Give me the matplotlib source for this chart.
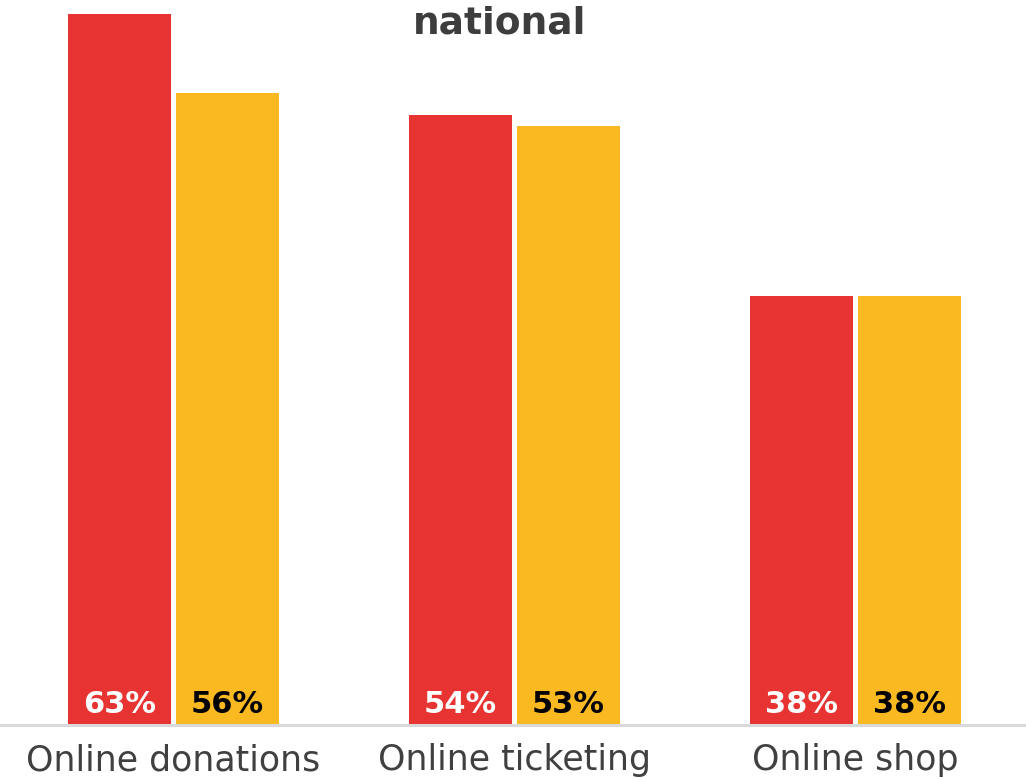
import matplotlib.pyplot as plt
import numpy as np

categories = ['Online donations', 'Online ticketing', 'Online shop']
series_a = [63, 54, 38]
series_b = [56, 53, 38]
title = 'national'

red = '#E73331'
yellow = '#FBB921'

fig = plt.figure(figsize=(10.26, 7.8), dpi=100)
ax = fig.add_axes([0, 55 / 780, 1, 725 / 780])

x = np.arange(len(categories))
w = 0.302
off = 0.158
bars_a = ax.bar(x - off, series_a, w, color=red)
bars_b = ax.bar(x + off, series_b, w, color=yellow)

for bars, col in ((bars_a, 'white'), (bars_b, 'black')):
    for b in bars:
        ax.annotate(f'{b.get_height():.0f}%', (b.get_x() + b.get_width() / 2, 0),
                    xytext=(0, 15), textcoords='offset points',
                    ha='center', va='center', color=col,
                    fontsize=22, fontweight='bold')

ax.set_xlim(-0.509, 2.5)
ax.set_ylim(0, 64.2)
ax.set_xticks(x)
ax.set_xticklabels(categories, fontsize=25, color='#404040')
ax.tick_params(axis='x', length=0, pad=13)
ax.set_yticks([])
for s in ('top', 'left', 'right'):
    ax.spines[s].set_visible(False)
ax.spines['bottom'].set_color('#d9d9d9')
ax.spines['bottom'].set_linewidth(2.2)

fig.text(500 / 1026, 1 - 23 / 780, title, ha='center', va='center',
         fontsize=27, fontweight='bold', color='#3d3d3d')

fig.savefig('out.png', dpi=100)
